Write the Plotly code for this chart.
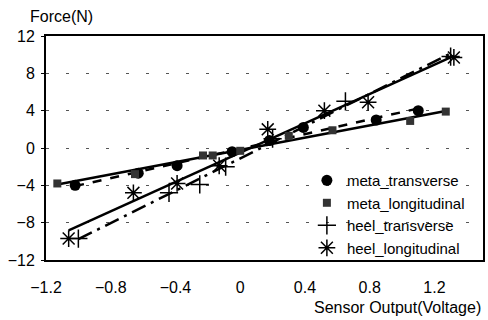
import numpy as np
import plotly.graph_objects as go

# Data
meta_trans_x = [-1.02, -0.63, -0.39, -0.05, 0.18, 0.39, 0.84, 1.10]
meta_trans_y = [-4.0, -2.7, -1.9, -0.4, 0.8, 2.2, 3.0, 4.0]

meta_long_x = [-1.13, -0.65, -0.23, -0.17, 0.0, 0.30, 0.57, 1.05, 1.27]
meta_long_y = [-3.8, -2.8, -0.8, -0.8, -0.3, 1.3, 1.9, 2.9, 3.9]

heel_trans_x = [-1.00, -0.44, -0.25, -0.09, 0.20, 0.65, 1.30]
heel_trans_y = [-9.7, -4.8, -3.9, -2.0, 1.0, 5.0, 9.8]

heel_long_x = [-1.06, -0.66, -0.39, -0.13, 0.17, 0.52, 0.79, 1.32]
heel_long_y = [-9.7, -4.8, -3.8, -1.9, 2.0, 4.0, 4.9, 9.7]

x_ticks = [-1.2, -0.8, -0.4, 0, 0.4, 0.8, 1.2]
x_tick_labels = ["\u22121.2", "\u22120.8", "\u22120.4", "0", "0.4", "0.8", "1.2"]
y_ticks = [-12, -8, -4, 0, 4, 8, 12]
y_tick_labels = ["\u221212", "\u22128", "\u22124", "0", "4", "8", "12"]

FONT = "Arial, Liberation Sans, Helvetica, sans-serif"

series = [
    ("meta_transverse", meta_trans_x, meta_trans_y,
     dict(symbol="circle", size=11, color="black"), "dash"),
    ("meta_longitudinal", meta_long_x, meta_long_y,
     dict(symbol="square", size=8, color="#333333"), "solid"),
    ("heel_transverse", heel_trans_x, heel_trans_y,
     dict(symbol="cross-thin-open", size=13, color="black",
          line=dict(color="black", width=1.5)), "longdashdot"),
    ("heel_longitudinal", heel_long_x, heel_long_y,
     dict(symbol="asterisk-open", size=14, color="black",
          line=dict(color="black", width=1.5)), "solid"),
]

fig = go.Figure()

# trend lines (linear least-squares fit over each series' range)
for name, xs, ys, mk, dash in series:
    xs_a = np.array(xs)
    ys_a = np.array(ys)
    m, b = np.polyfit(xs_a, ys_a, 1)
    xr = np.array([xs_a.min(), xs_a.max()])
    fig.add_trace(go.Scatter(x=xr, y=m * xr + b, mode="lines",
                             line=dict(color="black", width=2.5, dash=dash),
                             showlegend=False, hoverinfo="skip"))

for name, xs, ys, mk, dash in series:
    fig.add_trace(go.Scatter(x=xs, y=ys, mode="markers", name=name, marker=mk))

fig.update_layout(
    width=488, height=320,
    margin=dict(l=46, r=3, t=36, b=60),
    paper_bgcolor="white", plot_bgcolor="white",
    font=dict(family=FONT, size=16, color="black"),
    showlegend=True,
    legend=dict(x=0.597, xanchor="left", y=-0.018, yanchor="bottom",
                bgcolor="rgba(255,255,255,0)", borderwidth=0,
                font=dict(size=15, family=FONT),
                tracegroupgap=0, itemwidth=30),
    # white panel behind the legend that hides the gridlines there
    shapes=[dict(type="rect", xref="paper", yref="paper",
                 x0=0.6, x1=1.0, y0=0.0, y1=0.42,
                 fillcolor="white", line=dict(width=0), layer="between")],
    annotations=[
        dict(text="Force(N)", xref="paper", yref="paper", x=-0.041, y=1.085,
             xanchor="left", yanchor="middle", showarrow=False,
             font=dict(size=16, family=FONT)),
        dict(text="Sensor Output(Voltage)", xref="paper", yref="paper",
             x=1.0, y=-0.165, xanchor="right", yanchor="top", showarrow=False,
             font=dict(size=16, family=FONT)),
    ],
)

fig.update_xaxes(range=[-1.2, 1.5], tickvals=x_ticks, ticktext=x_tick_labels,
                 showgrid=False, zeroline=False,
                 showline=True, linecolor="black", linewidth=2, mirror=True,
                 ticks="", ticklabelstandoff=12, tickfont=dict(size=16))
fig.update_yaxes(range=[-12, 12], tickvals=y_ticks, ticktext=y_tick_labels,
                 showgrid=True, gridcolor="#555555", gridwidth=1, griddash="3px,17px",
                 zeroline=False,
                 showline=True, linecolor="black", linewidth=2, mirror=True,
                 ticks="outside", ticklen=3, tickcolor="black",
                 ticklabelstandoff=3, tickfont=dict(size=16))

fig.write_html("out.html", config={"displayModeBar": False},
               post_script="document.body.style.margin='0px';document.body.style.overflow='hidden';")
